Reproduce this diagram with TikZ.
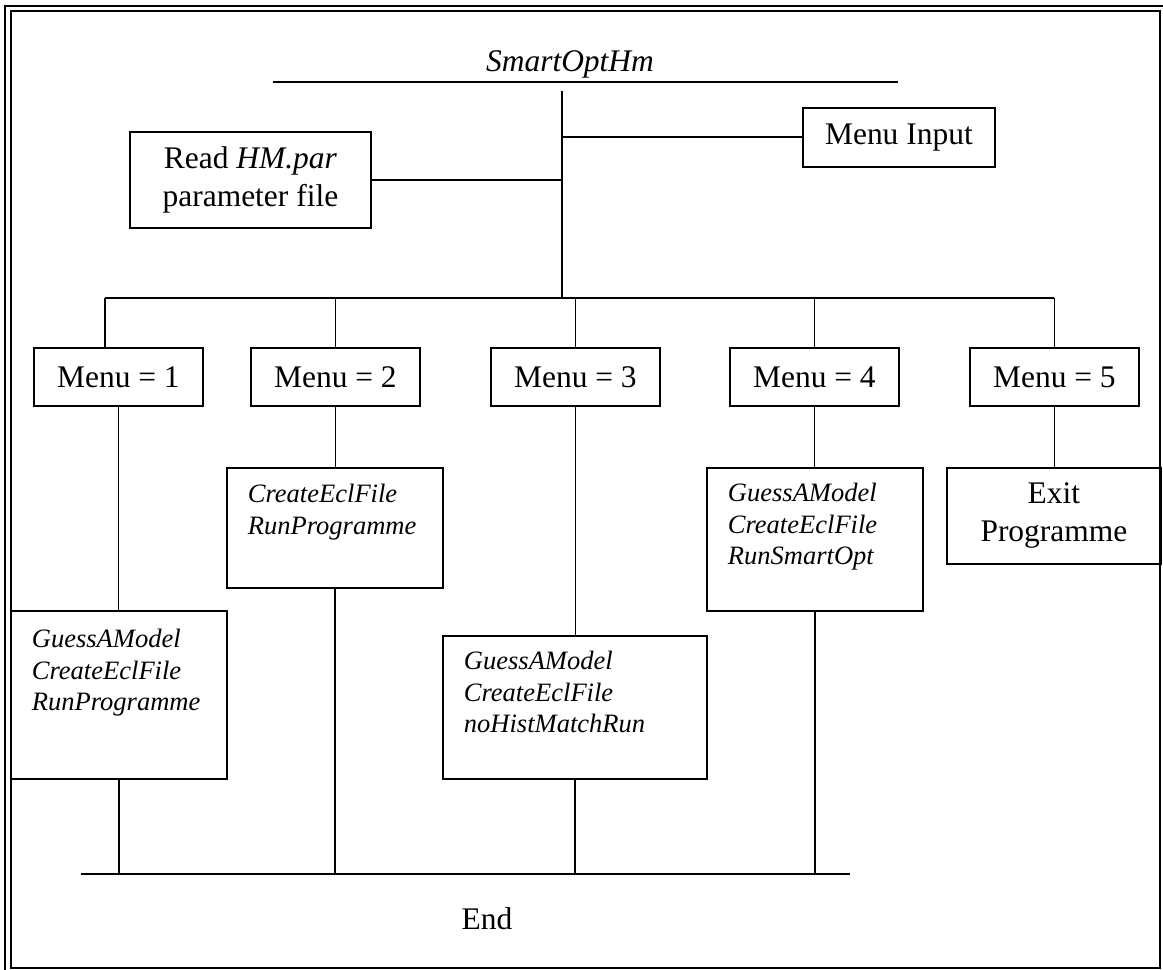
\documentclass[tikz,border=0pt]{standalone}
\usepackage{fontspec}
\setmainfont{Liberation Serif}
\usepackage{tikz}
\usetikzlibrary{calc}

\begin{document}
\begin{tikzpicture}[x=0.75pt, y=-0.75pt, line width=1.35pt,
    box/.style={draw, line width=1.35pt, inner sep=0pt, align=center, anchor=north west,
      font=\fontsize{23.6}{28.5}\selectfont},
    menubox/.style={box, minimum width=126.75pt, minimum height=43.5pt},
    callbox/.style={draw, line width=1.35pt, anchor=north west, align=left, inner xsep=15.75pt, inner ysep=0pt,
      font=\fontsize{19.9}{23.6}\selectfont\itshape}]
          \useasboundingbox (0,0) rectangle (1163,970);
          \draw[line width=1.6pt] (5,970) -- (5,6) -- (1163,6);
          \draw[line width=1.5pt] (11,11) rectangle (1160,968);

          \node[font=\fontsize{23.6}{28.5}\selectfont\itshape, anchor=base] (title) at (570,72) {SmartOptHm};
          \coordinate (topL) at (273,82);
          \coordinate (topR) at (898,82);
          \coordinate (trunk) at (562,91);
          \coordinate (hub) at (562,298);
          \coordinate (bus1) at (105,298);

          \node[box, minimum width=180.75pt, minimum height=72pt] (ReadPar) at (129,131) {Read \textit{HM.par}\\parameter file};
          \node[box, minimum width=144pt, minimum height=44.25pt] (MenuInput) at (802,107) {Menu Input};

          \node[menubox] (Menu1) at (33,347) {Menu = 1};
          \node[menubox] (Menu2) at (250,347) {Menu = 2};
          \node[menubox] (Menu3) at (490,347) {Menu = 3};
          \node[menubox] (Menu4) at (729,347) {Menu = 4};
          \node[menubox] (Menu5) at (969,347) {Menu = 5};

          \node[callbox, text width=130.5pt, text height=27.75pt, text depth=98.25pt] (Calls1) at (10,610) {GuessAModel\\CreateEclFile\\RunProgramme};
          \node[callbox, text width=130.5pt, text height=26.25pt, text depth=63.75pt] (Calls2) at (226,467) {CreateEclFile\\RunProgramme};
          \node[callbox, text width=166.5pt, text height=25.5pt, text depth=81.75pt] (Calls3) at (442,635) {GuessAModel\\CreateEclFile\\noHistMatchRun};
          \node[callbox, text width=130.5pt, text height=25.5pt, text depth=81.75pt] (Calls4) at (706,467) {GuessAModel\\CreateEclFile\\RunSmartOpt};
          \node[box, minimum width=160.5pt, minimum height=72pt] (ExitProg) at (946,467) {Exit\\Programme};

          \coordinate (endL) at (81,874);
          \coordinate (endR) at (850,874);
          \node[font=\fontsize{23.6}{28.5}\selectfont, anchor=base] (End) at (487,929) {End};

          \draw (topL) -- (topR);
          \draw (trunk) -- (hub);
          \draw (ReadPar.east) -- (ReadPar.east -| trunk);
          \draw (MenuInput.west) -- (MenuInput.west -| trunk);
          \draw (bus1) -- (Menu5.north |- bus1);
          \draw (bus1) -- (bus1 |- Menu1.north);
          \draw (Menu2.north) -- (Menu2.north |- bus1);
          \draw (Menu3.north) -- (Menu3.north |- bus1);
          \draw (Menu4.north) -- (Menu4.north |- bus1);
          \draw (Menu5.north) -- (Menu5.north |- bus1);

          \draw (Menu1.south) -- (Menu1.south |- Calls1.north);
          \draw (Menu2.south) -- (Menu2.south |- Calls2.north);
          \draw (Menu3.south) -- (Menu3.south |- Calls3.north);
          \draw (Menu4.south) -- (Menu4.south |- Calls4.north);
          \draw (Menu5.south) -- (Menu5.south |- ExitProg.north);

          \draw (endL) -- (endR);
          \draw (Calls1.south) -- (Calls1.south |- endL);
          \draw (Calls2.south) -- (Calls2.south |- endL);
          \draw (Calls3.south) -- (Calls3.south |- endL);
          \draw (Calls4.south) -- (Calls4.south |- endL);
        \end{tikzpicture}
\end{document}
